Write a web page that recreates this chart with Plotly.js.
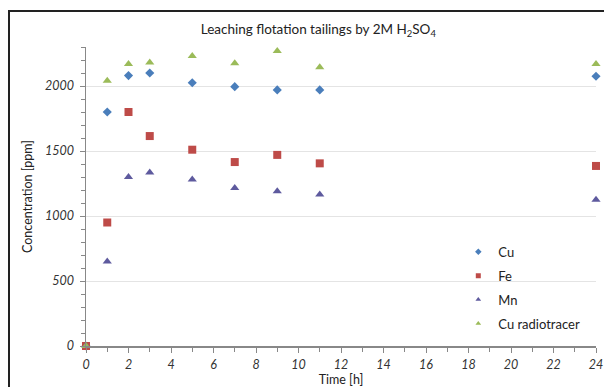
<!DOCTYPE html>
<html><head><meta charset="utf-8">
<script src="https://cdn.plot.ly/plotly-3.0.1.min.js"></script>
<style>
body{margin:0;padding:0;background:#fff;}
#wrap{position:relative;width:604px;height:387px;overflow:hidden;}
#chart{position:absolute;left:0;top:0;width:604px;height:387px;}
#frame{position:absolute;left:8px;top:10px;width:620px;height:400px;border:2px solid #222;pointer-events:none;}
</style></head>
<body><div id="wrap"><div id="chart"></div><div id="frame"></div></div>
<script>
const time = [0, 1, 2, 3, 5, 7, 9, 11, 24];
const cu = [0, 1800, 2080, 2100, 2025, 1995, 1970, 1970, 2075];
const fe = [0, 950, 1800, 1615, 1510, 1415, 1470, 1405, 1385];
const mn = [0, 650, 1300, 1335, 1280, 1215, 1190, 1165, 1125];
const cuRadio = [0, 2040, 2170, 2180, 2230, 2175, 2270, 2145, 2170];
const seriesNames = ['Cu', 'Fe', 'Mn', 'Cu radiotracer'];
const colors = ['#4a7ebb', '#be4b48', '#5e5a9e', '#9bbb59'];
const symbols = ['diamond', 'square', 'triangle-up', 'triangle-up'];
const sizes = [7, 8, 8, 8];
const values = [cu, fe, mn, cuRadio];

const fontFam = 'Lato, "Open Sans", sans-serif';
const traces = [];
values.forEach((v, i) => {
  traces.push({type:'scatter', mode:'markers', x: time, y: v, name: seriesNames[i], showlegend:false,
    cliponaxis:false, marker:{symbol:symbols[i], size:sizes[i], color:colors[i]}});
});
values.forEach((v, i) => {
  traces.push({type:'scatter', mode:'markers', x:[null], y:[null], name: seriesNames[i], legendgroup:'g'+i,
    marker:{symbol:symbols[i], size:5, color:colors[i]}});
});

const layout = {
  width:604, height:387,
  margin:{l:86, r:8, t:47, b:41},
  paper_bgcolor:'#fff', plot_bgcolor:'#fff',
  font:{family:fontFam, color:'#333', size:12},
  title:{text:'Leaching flotation tailings by 2M H<sub>2</sub>SO<sub>4</sub>', x:0.527, xanchor:'center', y:0.925, yanchor:'middle', font:{size:13.5, color:'#222', family:fontFam}},
  xaxis:{range:[0,24], dtick:2, tick0:0, showgrid:false, zeroline:false,
    showline:true, linecolor:'#888', linewidth:1.5, ticks:'outside', ticklen:5, tickcolor:'#888',
    minor:{dtick:1, ticks:'outside', ticklen:4, tickcolor:'#888'},
    tickfont:{size:12.5, style:'italic', color:'#333'}, ticklabelstandoff:1,
    title:{text:'Time [h]', font:{size:12.5, color:'#222'}, standoff:6}},
  yaxis:{range:[0,2300], dtick:500, tick0:0, showgrid:true, gridcolor:'#e4e4e4', zeroline:false,
    showline:true, linecolor:'#888', linewidth:1.5, ticks:'outside', ticklen:5, tickcolor:'#888',
    minor:{dtick:100, ticks:'outside', ticklen:4, tickcolor:'#888', showgrid:false},
    tickfont:{size:12.5, style:'italic', color:'#333'}, ticklabelstandoff:3,
    title:{text:'Concentration [ppm]', font:{size:12.5, color:'#222'}, standoff:9}},
  showlegend:true,
  legend:{x:0.73, y:0.365, xanchor:'left', yanchor:'top', bgcolor:'rgba(0,0,0,0)',
    font:{size:13, color:'#222'}, tracegroupgap:4, itemwidth:30}
};
Plotly.newPlot('chart', traces, layout, {displayModeBar:false, staticPlot:true});
</script></body></html>
